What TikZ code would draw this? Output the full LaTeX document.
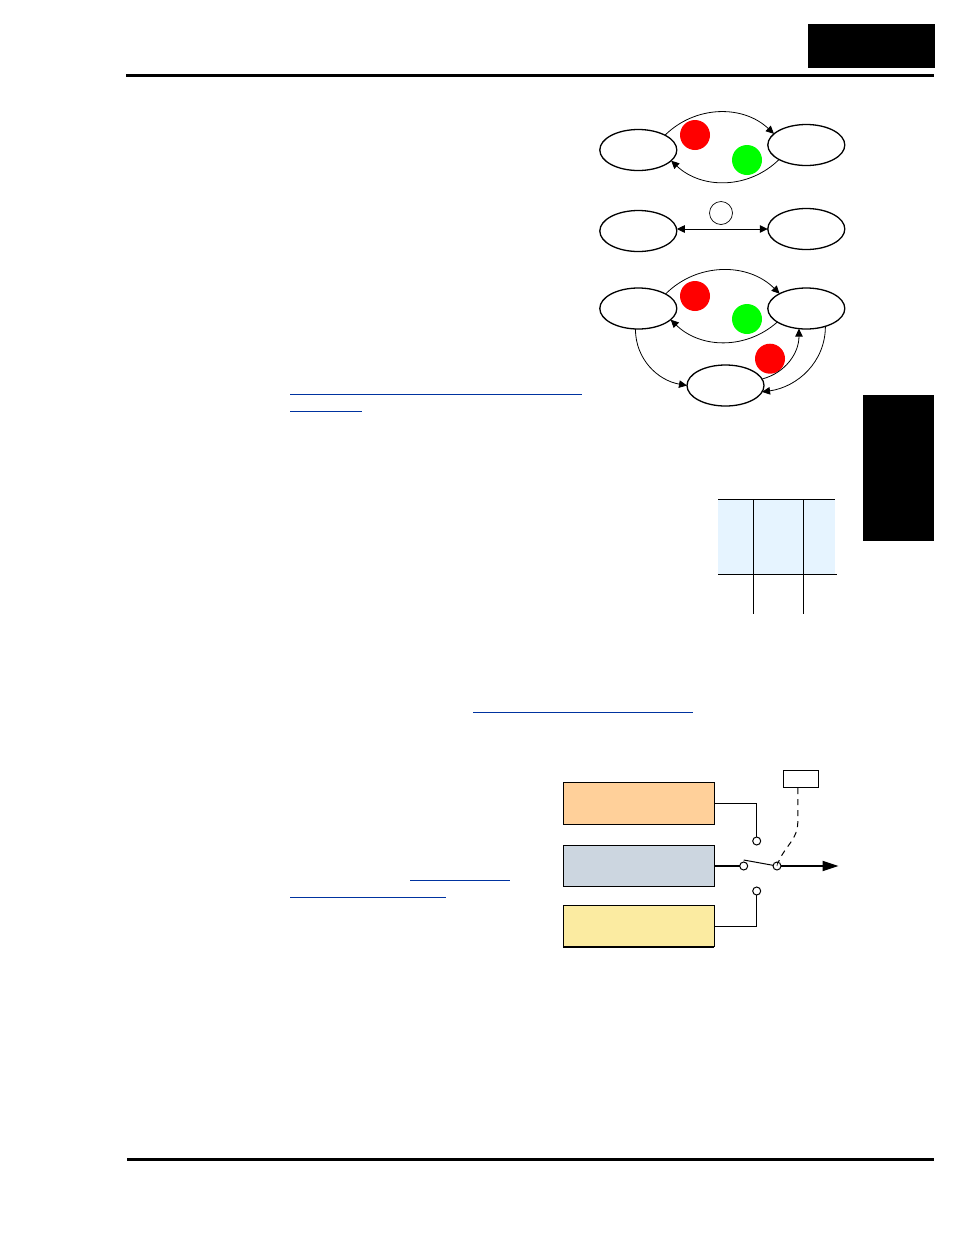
\documentclass[tikz,border=0pt]{standalone}
\usepackage{xcolor}
\usetikzlibrary{shapes.geometric, arrows.meta, positioning}
\definecolor{linkblue}{RGB}{0, 51, 160}
\definecolor{headblue}{RGB}{230, 244, 255}
\definecolor{srcorange}{RGB}{255, 208, 154}
\definecolor{srcgrey}{RGB}{204, 214, 224}
\definecolor{srcyellow}{RGB}{251, 235, 161}
\tikzset{
  arctip/.tip={Stealth[length=8pt, width=7.5pt, inset=0pt]},
  state/.style={ellipse, minimum width=77pt, minimum height=41pt, inner sep=0pt,
    outer sep=0pt, draw=black, fill=white, line width=1.3pt},
  lamp/.style={circle, minimum size=30pt, inner sep=0pt, outer sep=0pt},
  source/.style={rectangle, minimum width=151pt, minimum height=41.5pt, inner sep=0pt,
    outer sep=0pt, draw=black, line width=1pt},
  terminal/.style={circle, minimum size=8pt, inner sep=0pt, outer sep=0pt,
    draw=black, fill=white, line width=1pt},
  arc/.style={-arctip, line width=0.8pt},
  wire/.style={line width=1pt},
  rule/.style={line width=3pt},
  link/.style={draw=linkblue, line width=1pt},
}

\begin{document}
\begin{tikzpicture}[x=1pt, y=-1pt]
  \useasboundingbox (0,0) rectangle (954,1235);

  % ── Page furniture ──
  \fill (808,24) rectangle (935,68);
  \fill (863,395) rectangle (934,541);
  \draw[rule] (126,75.5) -- (934,75.5);
  \draw[rule] (127,1159.5) -- (934,1159.5);

  % ── Links ──
  \draw[link] (290,394.3) -- (582,394.3);
  \draw[link] (290,411) -- (362,411);
  \draw[link] (473,712.5) -- (693,712.5);
  \draw[link] (410,880.5) -- (510,880.5);
  \draw[link] (290,897.5) -- (446,897.5);

  % ── Upper states ──
  \node[state] (runA) at (638.3,150) {};
  \node[state, right=91pt of runA, yshift=5pt] (runB) {};
  \node[lamp, fill=red] (lampA) at (695,135) {};
  \node[lamp, fill=green] (lampB) at (747,160) {};
  \draw[arc] (runA.29) to[bend left=44] (runB.161);
  \draw[arc] (runB.208) to[bend left=44] (runA.342);

  % ── Middle states ──
  \node[state, below=40pt of runA] (stopA) {};
  \node[state, below=43pt of runB] (stopB) {};
  \node[circle, minimum size=23pt, inner sep=0pt, draw=black, line width=0.7pt] (lampC) at (721,213) {};
  \draw[arctip-arctip, line width=1pt] (stopA.east |- stopB.west) -- (stopB.west);

  % ── Lower states ──
  \node[state, below=36.5pt of stopA] (tripA) {};
  \node[state, right=91pt of tripA] (tripB) {};
  \node[state] (tripC) at (725.5,385.5) {};
  \node[lamp, fill=red] (lampD) at (695,296) {};
  \node[lamp, fill=green] (lampE) at (747,319) {};
  \node[lamp, fill=red] (lampF) at (770,358.7) {};
  \draw[arc] (tripA.28) to[bend left=45] (tripB.151);
  \draw[arc] (tripB.205) to[bend left=43] (tripA.341);
  \draw[arc] (tripA.262) to[out=-90, in=170] (tripC.west);
  \draw[arc] (tripC.10) to[out=15, in=-90] (tripB.250);
  \draw[arc] (tripB.317) to[out=-90, in=8] (tripC.350);

  % ── Table ──
  \node[rectangle, minimum width=117pt, minimum height=75pt, inner sep=0pt, outer sep=0pt, fill=headblue] (tablehead) at (776.5,536.8) {};
  \draw[wire] (718,499.3) -- (835,499.3);
  \draw[wire] (718,574.3) -- (836.7,574.3);
  \draw[wire] (753.3,499.3) -- (753.3,613.6);
  \draw[wire] (803.3,499.3) -- (803.3,613.6);

  % ── Sources ──
  \node[source, fill=srcorange, minimum height=42pt] (srcA) at (638.8,803.3) {};
  \node[source, fill=srcgrey, below=20.8pt of srcA] (srcB) {};
  \node[source, fill=srcyellow, below=18.8pt of srcB] (srcC) {};
  \draw[line width=1.8pt] (srcC.south west) -- (srcC.south east);

  % ── Switch ──
  \node[terminal] (termA) at (756.7,841) {};
  \node[terminal] (termB) at (743.7,866) {};
  \node[terminal] (termC) at (756.7,891) {};
  \node[terminal] (termD) at (777,866) {};
  \node[rectangle, minimum width=35pt, minimum height=17pt, inner sep=0pt, outer sep=0pt, draw=black, line width=1pt] (select) at (800.8,778.6) {};
  \coordinate (out) at (838.5,866);

  \draw[wire] (srcA.east) -| (termA.north);
  \draw[wire] (srcC.east) -| (termC.south);
  \draw[line width=2pt] (srcB.east |- termB.west) -- (termB.west);
  \draw[line width=2pt, -{Stealth[length=16pt, width=10pt, inset=0pt]}] (termD.east) -- (out);
  \draw[wire] (termB.north) ++(0,-2) -- (termD.170);
  \draw[wire, dash pattern=on 6pt off 5pt] (select.south) ++(-3,1) -- ++(0,34) to[out=-90, in=68] (termD.70);
  \draw[line width=0.6pt] (termD.center) -- (termD.80);

\end{tikzpicture}
\end{document}
